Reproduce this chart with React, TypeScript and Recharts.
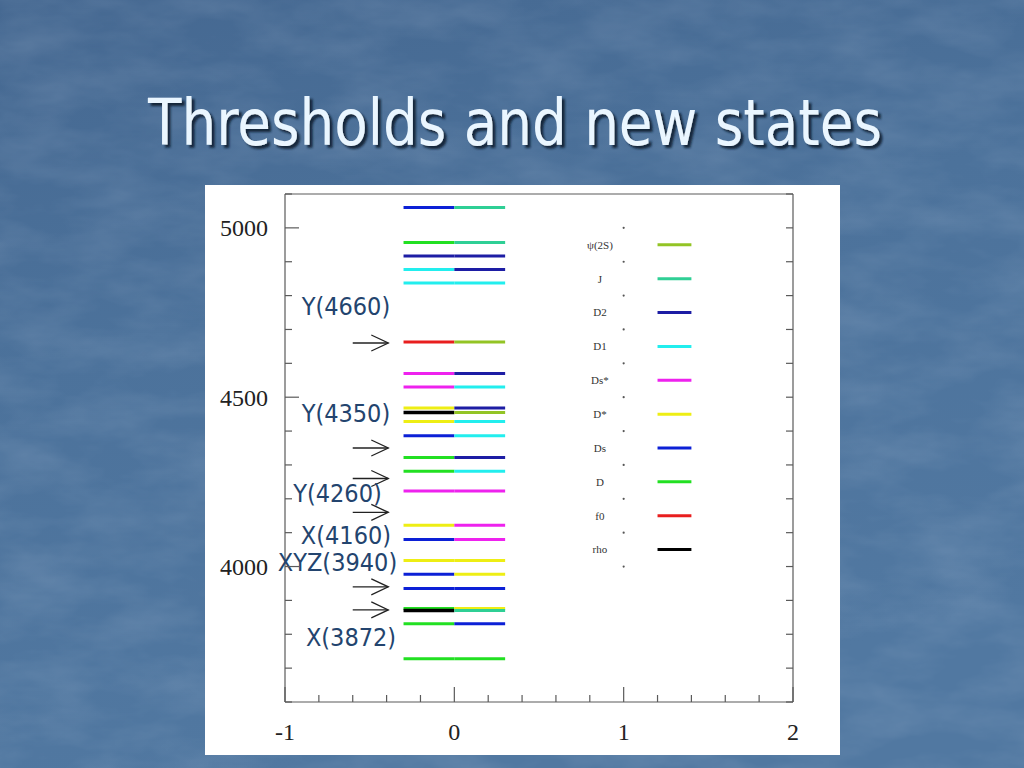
import {
  ComposedChart,
  ReferenceDot,
  ReferenceLine,
  Scatter,
  XAxis,
  YAxis,
} from "recharts";

// particle species used for the threshold colour code
const particleKeys = ["psi", "J", "D2", "D1", "Dss", "Dst", "Ds", "D", "f0", "rho"];
const particleLabels = ["ψ(2S)", "J", "D2", "D1", "Ds*", "D*", "Ds", "D", "f0", "rho"];
const particleColors = [
  "#93c425",
  "#2fcf95",
  "#1d1da4",
  "#22eeee",
  "#ee22ee",
  "#eeee14",
  "#0c20d6",
  "#22e022",
  "#e81e1e",
  "#000000",
];
const legendRowY = [4950, 4850, 4750, 4650, 4550, 4450, 4350, 4250, 4150, 4050];
const legendDotY = [5000, 4900, 4800, 4700, 4600, 4500, 4400, 4300, 4200, 4100, 4000];

// two-body thresholds (MeV): left half = first particle, right half = second
const thresholdMass = [
  5060, 4957, 4917, 4877, 4837, 4663, 4570, 4530, 4468, 4455, 4428, 4386, 4322,
  4281, 4223, 4122, 4080, 4018, 3977, 3935, 3876, 3870, 3831, 3728,
];
const leftParticle = [
  "Ds", "D", "D2", "D1", "D1", "f0", "Dss", "Dss", "Dst", "rho", "Dst", "Ds", "D",
  "D", "Dss", "Dst", "Ds", "Dst", "Ds", "Ds", "D", "rho", "D", "D",
];
const rightParticle = [
  "J", "J", "D2", "D2", "D1", "psi", "D2", "D1", "D2", "psi", "D1", "D1", "D2",
  "D1", "Dss", "Dss", "Dss", "Dst", "Dst", "Ds", "Dst", "J", "Ds", "D",
];

// new states marked with arrows
const stateLabels = ["Y(4660)", "Y(4350)", "Y(4260)", "X(4160)", "XYZ(3940)", "X(3872)"];
const stateMass = [4660, 4350, 4260, 4160, 3940, 3872];

const xTicks = [-1, -0.8, -0.6, -0.4, -0.2, 0, 0.2, 0.4, 0.6, 0.8, 1, 1.2, 1.4, 1.6, 1.8, 2];
const yTicks = [
  3600, 3700, 3800, 3900, 4000, 4100, 4200, 4300, 4400, 4500, 4600, 4700, 4800, 4900,
  5000, 5100,
];

// where the slide's text boxes sit, in data units
const labelPlace = [
  { x: -0.64, y: 4770 },
  { x: -0.64, y: 4452 },
  { x: -0.69, y: 4215 },
  { x: -0.64, y: 4091 },
  { x: -0.69, y: 4012 },
  { x: -0.61, y: 3790 },
];

const AXIS = "#5a5a5a";
const SERIF = "'Liberation Serif', 'DejaVu Serif', serif";
const SLIDE_FONT = "'DejaVu Sans Condensed', 'DejaVu Sans', sans-serif";

const colorOf = (key: string) => particleColors[particleKeys.indexOf(key)];
const isInt = (v: number) => Math.abs(v - Math.round(v)) < 1e-6;

function BottomTick({ x, y, payload }: any) {
  const v = payload.value;
  const major = isInt(v);
  return (
    <g>
      <line x1={x} y1={y} x2={x} y2={y - (major ? 15 : 7)} stroke={AXIS} strokeWidth={1.2} />
      {major && (
        <text x={x} y={y + 38} textAnchor="middle" fontSize={24} fontFamily={SERIF} fill="#222">
          {Math.round(v)}
        </text>
      )}
    </g>
  );
}

function TopTick({ x, y }: any) {
  return <line x1={x} y1={y} x2={x} y2={y + 7} stroke={AXIS} strokeWidth={1.2} />;
}

function LeftTick({ x, y, payload }: any) {
  const v = payload.value;
  const major = v % 500 === 0;
  return (
    <g>
      <line x1={x} y1={y} x2={x + (major ? 14 : 7)} y2={y} stroke={AXIS} strokeWidth={1.2} />
      {major && (
        <text
          x={x - 17}
          y={y}
          dy="0.35em"
          textAnchor="end"
          fontSize={24}
          fontFamily={SERIF}
          fill="#222"
        >
          {v}
        </text>
      )}
    </g>
  );
}

function RightTick({ x, y }: any) {
  return <line x1={x} y1={y} x2={x - 7} y2={y} stroke={AXIS} strokeWidth={1.2} />;
}

function Arrow({ x1, y1, x2, y2 }: any) {
  return (
    <g stroke="#222" strokeWidth={1.3} fill="none">
      <line x1={x1} y1={y1} x2={x2} y2={y2} />
      <polyline points={`${x2 - 17},${y2 - 8} ${x2},${y2} ${x2 - 17},${y2 + 8}`} />
    </g>
  );
}

const dotData = legendDotY.map((y) => ({ x: 1, y }));

export default function App() {
  return (
    <div
      style={{
        position: "absolute",
        left: 0,
        top: 0,
        width: 1024,
        height: 768,
        overflow: "hidden",
      }}
    >
      <svg width={1024} height={768} style={{ position: "absolute", left: 0, top: 0 }}>
        <defs>
          <linearGradient id="bg" x1="0" y1="0" x2="0.3" y2="1">
            <stop offset="0" stopColor="#456891" />
            <stop offset="0.45" stopColor="#4c729b" />
            <stop offset="1" stopColor="#5178a1" />
          </linearGradient>
          <filter id="grain" x="0" y="0" width="100%" height="100%">
            <feTurbulence type="fractalNoise" baseFrequency="0.012 0.03" numOctaves={4} seed={3} />
            <feColorMatrix
              type="matrix"
              values="0 0 0 0 0.85  0 0 0 0 0.9  0 0 0 0 1  0 0 0 0.55 -0.18"
            />
          </filter>
          <filter id="shadow" x="-5%" y="-20%" width="110%" height="150%">
            <feDropShadow dx={3} dy={3} stdDeviation={1} floodColor="#0e1c30" floodOpacity={0.9} />
          </filter>
        </defs>
        <rect width={1024} height={768} fill="url(#bg)" />
        <rect width={1024} height={768} filter="url(#grain)" opacity={0.35} />
        <text
          x={515}
          y={145}
          textAnchor="middle"
          fontSize={64}
          fontFamily={SLIDE_FONT}
          fill="#eaf6ff"
          textLength={734}
          lengthAdjust="spacingAndGlyphs"
          filter="url(#shadow)"
        >
          Thresholds and new states
        </text>
      </svg>

      <div
        style={{
          position: "absolute",
          left: 205,
          top: 185,
          width: 635,
          height: 570,
          background: "#ffffff",
        }}
      >
        <ComposedChart width={635} height={570} margin={{ top: 8, right: 46, bottom: 0, left: 0 }}>
          <XAxis
            type="number"
            dataKey="x"
            domain={[-1, 2]}
            ticks={xTicks}
            interval={0}
            allowDataOverflow
            height={53}
            tickLine={false}
            tickSize={0}
            tickMargin={0}
            axisLine={{ stroke: AXIS, strokeWidth: 1.2 }}
            tick={<BottomTick />}
          />
          <XAxis
            xAxisId="top"
            orientation="top"
            type="number"
            domain={[-1, 2]}
            ticks={xTicks}
            interval={0}
            allowDataOverflow
            height={1}
            tickLine={false}
            tickSize={0}
            tickMargin={0}
            axisLine={{ stroke: AXIS, strokeWidth: 1.2 }}
            tick={<TopTick />}
          />
          <YAxis
            type="number"
            dataKey="y"
            domain={[3600, 5100]}
            ticks={yTicks}
            interval={0}
            allowDataOverflow
            width={80}
            tickLine={false}
            tickSize={0}
            tickMargin={0}
            axisLine={{ stroke: AXIS, strokeWidth: 1.2 }}
            tick={<LeftTick />}
          />
          <YAxis
            yAxisId="right"
            orientation="right"
            type="number"
            domain={[3600, 5100]}
            ticks={yTicks}
            interval={0}
            allowDataOverflow
            width={1}
            tickLine={false}
            tickSize={0}
            tickMargin={0}
            axisLine={{ stroke: AXIS, strokeWidth: 1.2 }}
            tick={<RightTick />}
          />

          {thresholdMass.map((m, i) => (
            <ReferenceLine
              key={`l${i}`}
              segment={[
                { x: -0.3, y: m },
                { x: 0, y: m },
              ]}
              stroke={colorOf(leftParticle[i])}
              strokeWidth={leftParticle[i] === "rho" ? 3.5 : 3}
            />
          ))}
          {thresholdMass.map((m, i) => (
            <ReferenceLine
              key={`r${i}`}
              segment={[
                { x: 0, y: m },
                { x: 0.3, y: m },
              ]}
              stroke={colorOf(rightParticle[i])}
              strokeWidth={3}
            />
          ))}

          {stateMass.map((m, i) => (
            <ReferenceLine
              key={`a${i}`}
              segment={[
                { x: -0.6, y: m },
                { x: -0.39, y: m },
              ]}
              shape={<Arrow />}
            />
          ))}
          {stateLabels.map((s, i) => (
            <ReferenceDot
              key={`s${i}`}
              x={labelPlace[i].x}
              y={labelPlace[i].y}
              r={0}
              shape={(p: any) => (
                <text
                  x={p.cx}
                  y={p.cy}
                  dy="0.35em"
                  textAnchor="middle"
                  fontSize={25}
                  fontFamily={SLIDE_FONT}
                  fill="#23446e"
                >
                  {s}
                </text>
              )}
            />
          ))}

          {particleLabels.map((name, i) => (
            <ReferenceDot
              key={`t${i}`}
              x={0.86}
              y={legendRowY[i]}
              r={0}
              shape={(p: any) => (
                <text
                  x={p.cx}
                  y={p.cy}
                  dy="0.35em"
                  textAnchor="middle"
                  fontSize={11}
                  fontFamily={SERIF}
                  fill="#333"
                >
                  {name}
                </text>
              )}
            />
          ))}
          {particleColors.map((c, i) => (
            <ReferenceLine
              key={`k${i}`}
              segment={[
                { x: 1.2, y: legendRowY[i] },
                { x: 1.4, y: legendRowY[i] },
              ]}
              stroke={c}
              strokeWidth={3}
            />
          ))}

          <Scatter
            data={dotData}
            isAnimationActive={false}
            shape={(p: any) => <circle cx={p.cx} cy={p.cy} r={1.1} fill="#555" />}
          />
        </ComposedChart>
      </div>
    </div>
  );
}
